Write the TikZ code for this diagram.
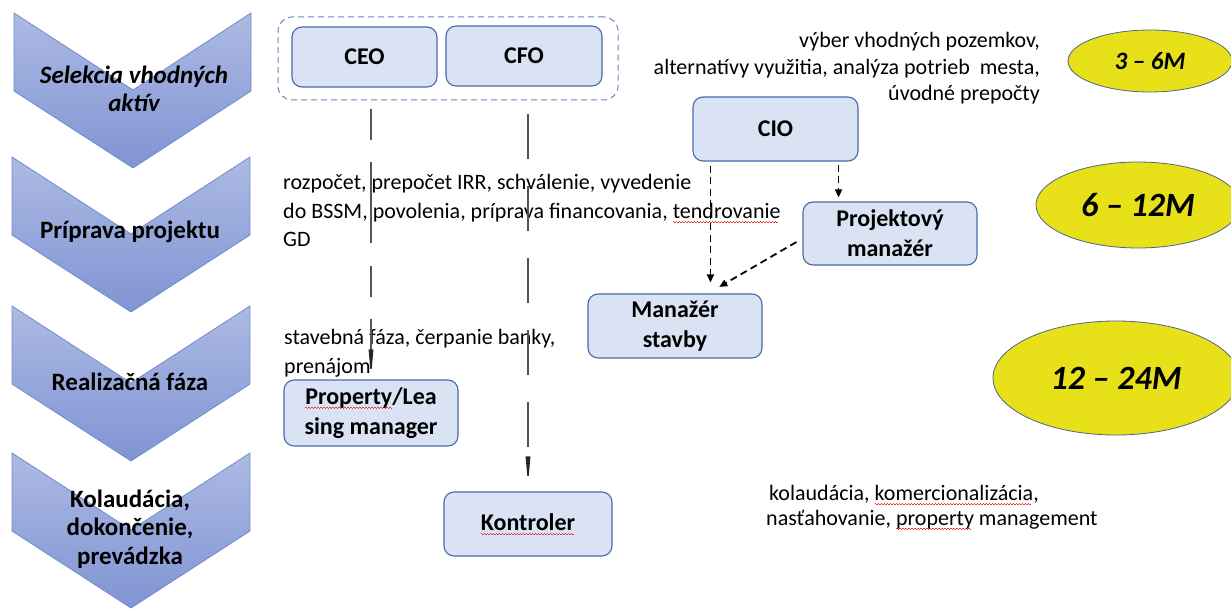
\documentclass[tikz,border=0pt]{standalone}
\usepackage{fontspec}
\setmainfont{Carlito}
\usetikzlibrary{arrows.meta,shapes.geometric}
\definecolor{cvTop}{RGB}{172,186,227}
\definecolor{cvBot}{RGB}{128,148,211}
\definecolor{cvEdge}{RGB}{112,140,205}
\definecolor{boxfill}{RGB}{218,227,243}
\definecolor{boxedge}{RGB}{72,106,170}
\definecolor{grpedge}{RGB}{105,135,195}
\definecolor{ellfill}{RGB}{232,225,26}
\definecolor{elledge}{RGB}{80,100,135}
\definecolor{linegray}{RGB}{85,85,85}
\definecolor{spellred}{RGB}{230,60,60}
\newcommand\spell[1]{\setbox0\hbox{#1}\rlap{\color{spellred}\hbox to\wd0{\leaders\hbox to 3pt{\vrule height -2.8pt depth 3.6pt width 1.5pt\vrule height -3.6pt depth 4.4pt width 1.5pt}\hfill}}\box0\relax}
\begin{document}
\begin{tikzpicture}[x=1pt,y=-1pt,
  chev/.style={top color=cvTop, bottom color=cvBot, draw=cvEdge, line width=0.8pt},
  chevtext/.style={align=center, inner sep=0pt, font=\fontsize{25}{28.5}\selectfont\bfseries},
  box/.style={draw=boxedge, fill=boxfill, line width=1.1pt, rounded corners=10pt, align=center, inner sep=0pt, font=\fontsize{24}{30}\selectfont\bfseries},
  grp/.style={draw=grpedge, line width=1pt, dash pattern=on 6pt off 4pt, rounded corners=14pt, inner sep=0pt},
  ell/.style={ellipse, draw=elledge, fill=ellfill, line width=0.8pt, inner sep=0pt, font=\bfseries\itshape},
  body/.style={inner sep=0pt, align=left, font=\fontsize{22}{28.5}\selectfont},
  solidconn/.style={draw=linegray, line width=1.4pt, -{Triangle[length=28pt,width=4.5pt,color=black!85]}},
  dasharr/.style={draw=black, line width=1.8pt, dash pattern=on 7pt off 4.5pt, -{Triangle[length=8pt,width=7pt]}}
]
\useasboundingbox (0,0) rectangle (1231,609);
\begin{scope}
\clip (0,0) rectangle (1231,609);
% chevrons
\path[chev] (14,13) -- (133,90) -- (251,13) -- (251,91) -- (133,168) -- (14,91) -- cycle;
\path[chev] (12,157) -- (131,234) -- (250,157) -- (250,235) -- (131,312) -- (12,235) -- cycle;
\path[chev] (12,306) -- (131,383) -- (250,306) -- (250,384) -- (131,461) -- (12,384) -- cycle;
\path[chev] (12,453) -- (131,530) -- (250,453) -- (250,531) -- (131,608) -- (12,531) -- cycle;
\node[chevtext, font=\fontsize{25}{28.5}\selectfont\bfseries\itshape] (t1) at (134,89) {Selekcia vhodných\\aktív};
\node[chevtext] (t2) at (130,232) {Príprava projektu};
\node[chevtext] (t3) at (130,382) {Realizačná fáza};
\node[chevtext] (t4) at (130,529) {Kolaudácia,\\dokončenie,\\prevádzka};

% ellipses
\node[ell, minimum width=164pt, minimum height=62pt, font=\fontsize{25}{28}\selectfont\bfseries\itshape] (e1) at (1150,61) {3 – 6M};
\node[ell, minimum width=204pt, minimum height=86pt, font=\fontsize{34}{38}\selectfont\bfseries\itshape] (e2) at (1138,205) {6 – 12M};
\node[ell, minimum width=246pt, minimum height=114pt, font=\fontsize{34}{38}\selectfont\bfseries\itshape] (e3) at (1116,378) {12 – 24M};

% boxes
\node[grp, minimum width=340pt, minimum height=83pt] (grp) at (448,58.5) {};
\node[box, minimum width=145pt, minimum height=60pt] (CEO) at (364.5,57) {CEO};
\node[box, minimum width=156pt, minimum height=60pt] (CFO) at (524,56) {CFO};
\node[box, minimum width=165pt, minimum height=64pt] (CIO) at (775.5,129) {CIO};
\node[box, minimum width=174pt, minimum height=63pt] (PM) at (890,233.5) {Projektový\\manažér};
\node[box, minimum width=174pt, minimum height=64pt] (MS) at (675,326) {Manažér\\stavby};
\node[box, minimum width=174pt, minimum height=66pt] (PLM) at (371,413) {\spell{Property}/Lea\\sing manager};
\node[box, minimum width=168pt, minimum height=64pt] (KON) at (528,524) {\spell{Kontroler}};

% text blocks (base anchor = baseline of last line)
\node[body, anchor=base east, align=right, font=\fontsize{22}{26.5}\selectfont] (txt1) at (1040,101) {výber vhodných pozemkov,\\alternatívy využitia, analýza potrieb\ \ mesta,\\úvodné prepočty};
\node[body, anchor=base west] (txt2) at (283,247) {rozpočet, prepočet IRR, schválenie, vyvedenie\\do BSSM, povolenia, príprava financovania, \spell{tendrovanie}\\GD};
\node[body, anchor=base west] (txt3) at (284,373.5) {stavebná fáza, čerpanie banky,\\prenájom};
\node[body, anchor=base west, font=\fontsize{22}{25}\selectfont] (txt4) at (766,525) {\hspace{3pt}kolaudácia, \spell{komercionalizácia},\\nasťahovanie, \spell{property} management};

% connectors
\draw[solidconn, dash pattern=on 31pt off 22pt on 81pt off 23pt, dash phase=136pt, shorten >=2pt] (CEO.south -| PLM.north) -- (PLM.north);
\draw[solidconn, dash pattern=on 45pt off 27pt, dash phase=45pt, shorten >=7pt] (CFO.south -| KON.north) -- (KON.north);
\draw[dasharr, shorten <=4pt, shorten >=11pt] ([xshift=18pt]CIO.south west) -- ([xshift=18pt]CIO.south west |- MS.north);
\draw[dasharr, shorten <=3pt, shorten >=4pt] ([xshift=-20pt]CIO.south east) -- ([xshift=-20pt]CIO.south east |- PM.north);
\draw[dasharr, shorten <=7pt, shorten >=13pt] ([yshift=-5pt]PM.west) -- ([xshift=33pt]MS.north);
\end{scope}
\end{tikzpicture}
\end{document}
